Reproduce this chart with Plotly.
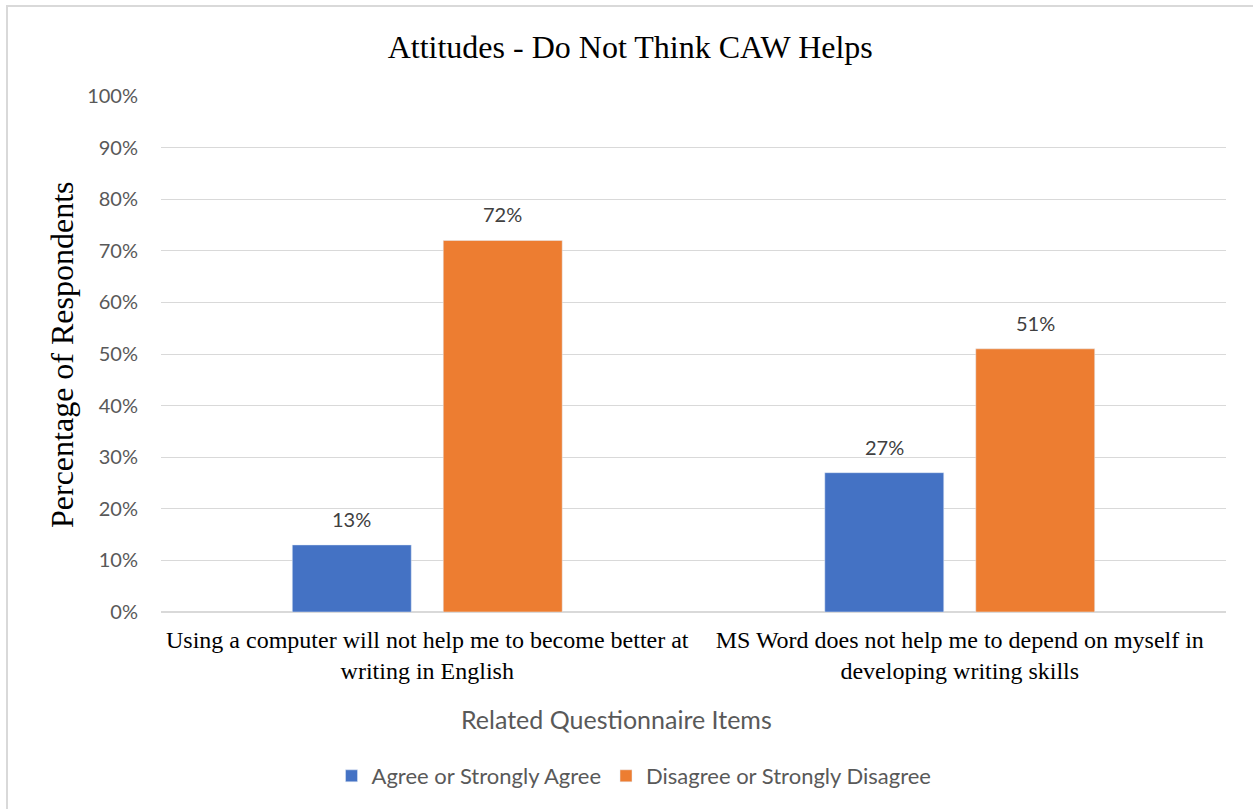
import plotly.graph_objects as go

categories = ["Using a computer will not help me to become better at<br>writing in English",
              "MS Word does not help me to depend on myself in<br>developing writing skills"]
agree = [0.13, 0.27]
disagree = [0.72, 0.51]
series_names = ["Agree or Strongly Agree", "Disagree or Strongly Disagree"]
colors = ["#4472C4", "#ED7D31"]

W, H = 1253, 809
L, R, T, B = 161, 27, 96, 197
pw, ph = W - L - R, H - T - B
SANS = "Lato, Open Sans, sans-serif"
SERIF = "Liberation Serif, Times New Roman, serif"

fig = go.Figure()
offsets = [-75.5, 75.5]
for name, vals, col, off in zip(series_names, [agree, disagree], colors, offsets):
    fig.add_trace(go.Bar(x=categories, y=vals, name=name, marker_color=col))
    for c, v in zip(categories, vals):
        fig.add_annotation(x=c, y=v, text=f"{round(v*100)}%", xshift=off, yshift=12,
                           showarrow=False, xanchor="center", yanchor="bottom",
                           font=dict(family=SANS, size=20, color="#404040"))

fig.update_layout(
    width=W, height=H,
    margin=dict(l=L, r=R, t=T, b=B, autoexpand=False),
    paper_bgcolor="white", plot_bgcolor="white",
    barmode="group", bargap=0.433, bargroupgap=0.212,
    title=dict(text="Attitudes - Do Not Think CAW Helps", x=0.503, xref="container",
               y=1 - 47 / H, yref="container", xanchor="center", yanchor="middle",
               font=dict(family=SERIF, size=32, color="black")),
    showlegend=True,
    legend=dict(orientation="h", xref="container", yref="container", x=0.506, y=1 - 776 / H,
                xanchor="center", yanchor="middle",
                font=dict(family=SANS, size=22, color="#595959"),
                itemwidth=30, traceorder="normal"),
    font=dict(family=SANS),
)
fig.update_yaxes(range=[0, 1], dtick=0.1, tickformat=".0%",
                 showgrid=True, gridcolor="#d9d9d9", gridwidth=1,
                 zeroline=True, zerolinecolor="#d9d9d9", showline=False,
                 ticks="", ticklabelstandoff=22,
                 tickfont=dict(family=SANS, size=20, color="#595959"))
fig.update_xaxes(showline=False, ticks="", ticklabelstandoff=11,
                 tickfont=dict(family=SERIF, size=24, color="black"))

fig.add_annotation(text="Percentage of Respondents", xref="paper", yref="paper",
                   x=(62 - L) / pw, y=(H - B - 355) / ph, textangle=-90,
                   showarrow=False, xanchor="center", yanchor="middle",
                   font=dict(family=SERIF, size=32, color="black"))
fig.add_annotation(text="Related Questionnaire Items", xref="paper", yref="paper",
                   x=(616 - L) / pw, y=(H - B - 719) / ph,
                   showarrow=False, xanchor="center", yanchor="middle",
                   font=dict(family=SANS, size=25, color="#595959"))

fig.add_shape(type="rect", xref="paper", yref="paper",
              x0=(7 - L) / pw, x1=(W + 20 - L) / pw,
              y0=(H - B - (H + 20)) / ph, y1=(H - B - 6) / ph,
              line=dict(color="#d9d9d9", width=2), fillcolor="rgba(0,0,0,0)", layer="below")

fig.write_html("out.html")
